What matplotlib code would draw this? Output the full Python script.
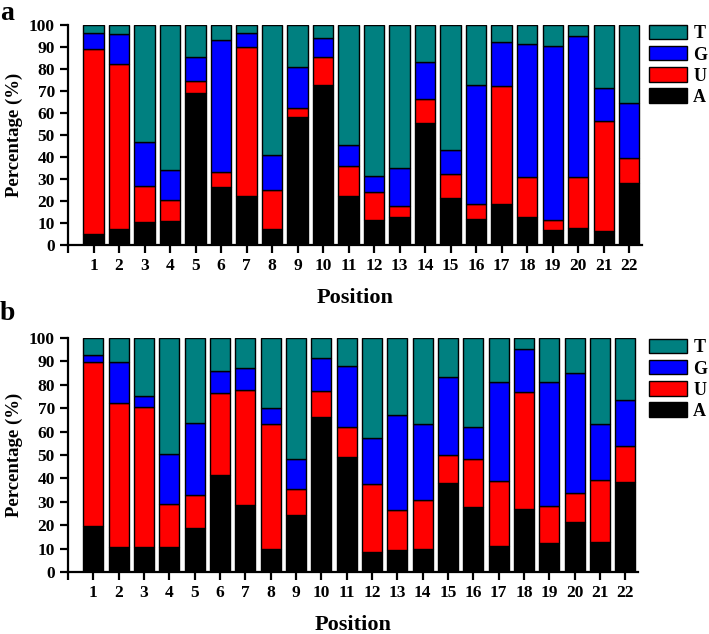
import numpy as np
import matplotlib
matplotlib.use('agg')
import matplotlib.pyplot as plt
from matplotlib.patches import Patch

positions = list(range(1, 23))
bases = ['A', 'U', 'G', 'T']
colors = {'A': '#000000', 'U': '#ff0000', 'G': '#0000ff', 'T': '#008080'}

# panel a, percentages per base (A, U, G; T is the rest up to 100)
a_A = [5.0, 7.1, 10.6, 10.9, 68.9, 26.4, 22.4, 7.4, 58.0, 72.7, 22.1,
       11.4, 12.6, 55.3, 21.4, 11.8, 18.5, 12.6, 7.0, 7.7, 6.2, 28.3]
a_U = [83.9, 75.2, 16.4, 9.4, 5.6, 6.8, 67.8, 17.4, 4.4, 12.6, 13.9,
       12.5, 5.1, 11.2, 10.7, 6.7, 53.6, 18.5, 4.2, 23.1, 50.3, 11.4]
a_G = [7.6, 13.7, 19.8, 13.6, 11.1, 60.0, 6.3, 16.2, 18.6, 8.8, 9.3,
       7.5, 17.5, 16.7, 11.2, 54.2, 20.0, 60.3, 79.3, 64.2, 14.9, 25.0]

# panel b
b_A = [19.6, 10.6, 10.6, 10.7, 18.6, 41.3, 28.7, 9.7, 24.3, 66.1, 49.3,
       8.6, 9.3, 9.7, 38.1, 27.9, 11.3, 27.0, 12.6, 21.4, 13.0, 38.4]
b_U = [70.0, 61.7, 60.0, 18.2, 14.4, 35.0, 49.2, 53.6, 11.0, 11.3, 12.8,
       29.1, 17.3, 21.0, 12.0, 20.5, 27.8, 49.9, 15.4, 12.3, 26.3, 15.5]
b_G = [3.0, 17.3, 4.5, 21.4, 30.6, 9.8, 9.2, 6.6, 13.0, 14.0, 25.8,
       19.4, 40.4, 32.7, 33.2, 13.7, 41.9, 18.5, 53.1, 51.4, 23.8, 19.5]

plt.rcParams['font.family'] = 'Liberation Serif'
plt.rcParams['font.weight'] = 'bold'

fig = plt.figure(figsize=(7.09, 6.34), dpi=100)
ax_a = fig.add_axes([0.0959, 0.6136, 0.8096, 0.347])
ax_b = fig.add_axes([0.0959, 0.0978, 0.8040, 0.369])


def draw(ax, A, U, G, leg_top):
    A = np.array(A)
    U = np.array(U)
    G = np.array(G)
    T = 100 - A - U - G
    x = np.array(positions)
    bottom = np.zeros(len(x))
    for name, vals in zip(bases, [A, U, G, T]):
        ax.bar(x, vals, width=0.8, bottom=bottom, color=colors[name],
               edgecolor='black', linewidth=1.0, label=name)
        bottom = bottom + vals
    ax.set_xlim(0, 22.5)
    ax.set_ylim(0, 100)
    ax.set_xticks([0] + positions)
    ax.set_xticklabels([''] + [str(p) for p in positions])
    ax.set_yticks(range(0, 101, 10))
    for s in ['top', 'right']:
        ax.spines[s].set_visible(False)
    for s in ['left', 'bottom']:
        ax.spines[s].set_linewidth(1.6)
    ax.tick_params(direction='out', width=1.6, length=6, labelsize=12.5)
    for lab in ax.get_xticklabels() + ax.get_yticklabels():
        lab.set_fontweight('bold')
    ax.set_xlabel('Position', fontsize=16, fontweight='bold', labelpad=10)
    ax.set_ylabel('Percentage (%)', fontsize=13.5, fontweight='bold', labelpad=4)
    handles = [Patch(facecolor=colors[n], edgecolor='black', label=n)
               for n in ['T', 'G', 'U', 'A']]
    fig.legend(handles=handles, loc='upper left',
               bbox_to_anchor=(649 / 709, leg_top),
               frameon=False, fontsize=13, handlelength=2.1, handleheight=0.85,
               handletextpad=0.35, labelspacing=0.2, borderaxespad=0,
               borderpad=0)


draw(ax_a, a_A, a_U, a_G, 1 - 25 / 634)
draw(ax_b, b_A, b_U, b_G, 1 - 339 / 634)

fig.text(0.0, 1 - 1 / 634, 'a', fontsize=20, fontweight='bold', va='top')
fig.text(0.0, 1 - 301 / 634, 'b', fontsize=20, fontweight='bold', va='top')

fig.savefig('out.png', dpi=100)
